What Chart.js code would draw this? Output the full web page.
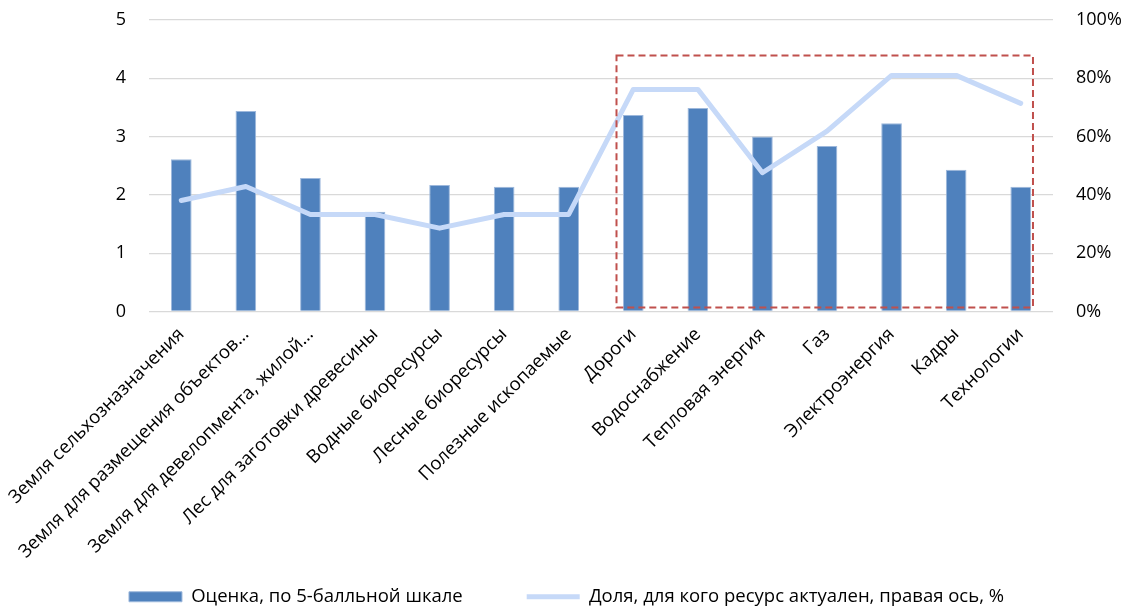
<!DOCTYPE html>
<html>
<head>
<meta charset="utf-8">
<script src="https://cdn.jsdelivr.net/npm/chart.js@4.4.0/dist/chart.umd.min.js"></script>
<style>
  html, body { margin: 0; padding: 0; background: #ffffff; }
  #wrap { width: 1133px; height: 609px; position: relative; }
</style>
</head>
<body>
<div id="wrap"><canvas id="c" width="1133" height="609"></canvas></div>
<script>
// ---- data ----
const categories = [
  'Земля сельхозназначения',
  'Земля для размещения объектов…',
  'Земля для девелопмента, жилой…',
  'Лес для заготовки древесины',
  'Водные биоресурсы',
  'Лесные биоресурсы',
  'Полезные ископаемые',
  'Дороги',
  'Водоснабжение',
  'Тепловая энергия',
  'Газ',
  'Электроэнергия',
  'Кадры',
  'Технологии'
];
const scores = [2.61, 3.44, 2.29, 1.71, 2.17, 2.14, 2.14, 3.37, 3.49, 3.00, 2.84, 3.23, 2.43, 2.14];
const shares = [38.1, 42.9, 33.3, 33.3, 28.6, 33.3, 33.3, 76.2, 76.2, 47.6, 61.9, 81.0, 81.0, 71.4];
const seriesNames = ['Оценка, по 5-балльной шкале', 'Доля, для кого ресурс актуален, правая ось, %'];
const leftTicks = [0, 1, 2, 3, 4, 5];
const rightTicks = [0, 20, 40, 60, 80, 100];
// highlighted group (category index range and score range it covers)
const highlightRange = { fromIndex: 6.74, toIndex: 13.19, low: 0.07, high: 4.39 };

const FONT = '"Open Sans", "Noto Sans", sans-serif';

const highlightPlugin = {
  id: 'highlightBox',
  afterDatasetsDraw(chart) {
    const x = chart.scales.x, y = chart.scales.y;
    const x0 = x.getPixelForValue(highlightRange.fromIndex);
    const x1 = x.getPixelForValue(highlightRange.toIndex);
    const y0 = y.getPixelForValue(highlightRange.high);
    const y1 = y.getPixelForValue(highlightRange.low);
    const ctx = chart.ctx;
    ctx.save();
    ctx.strokeStyle = '#C0504D';
    ctx.lineWidth = 2;
    ctx.setLineDash([7, 4]);
    ctx.strokeRect(x0, y0, x1 - x0, y1 - y0);
    ctx.restore();
  }
};

new Chart(document.getElementById('c'), {
  type: 'bar',
  data: {
    labels: categories,
    datasets: [
      {
        type: 'bar',
        label: seriesNames[0],
        data: scores,
        yAxisID: 'y',
        backgroundColor: '#4F81BD',
        borderColor: '#9DB8DC',
        borderWidth: 1,
        categoryPercentage: 1,
        barPercentage: 0.32,
        pointStyle: 'rect',
        order: 1
      },
      {
        type: 'line',
        label: seriesNames[1],
        data: shares,
        yAxisID: 'y1',
        borderColor: '#C6D9F8',
        backgroundColor: '#C6D9F8',
        borderWidth: 5,
        borderCapStyle: 'round',
        borderJoinStyle: 'round',
        tension: 0,
        pointRadius: 0,
        pointHoverRadius: 0,
        pointStyle: 'line',
        fill: false,
        order: 0
      }
    ]
  },
  options: {
    responsive: false,
    animation: false,
    devicePixelRatio: 1,
    layout: { padding: { top: 20, bottom: -7, left: 0, right: 0 } },
    plugins: {
      tooltip: { enabled: false },
      legend: {
        position: 'bottom',
        labels: {
          usePointStyle: true,
          pointStyleWidth: 53,
          boxHeight: 10,
          padding: 64,
          color: '#000000',
          font: { family: FONT, size: 18.5 },
          sort: (a, b) => a.datasetIndex - b.datasetIndex
        }
      }
    },
    scales: {
      x: {
        grid: { display: false, drawTicks: true, tickLength: 12, tickColor: 'rgba(0,0,0,0)' },
        border: { display: false },
        ticks: {
          autoSkip: false,
          minRotation: 45,
          maxRotation: 45,
          padding: 0,
          color: '#000000',
          font: { family: FONT, size: 18.5 }
        },
        afterFit(scale) {
          scale.height = 212;
          scale._computeLabelArea = () => undefined; // let rotated labels overflow the box
        }
      },
      y: {
        position: 'left',
        min: 0,
        max: 5,
        afterBuildTicks(scale) { scale.ticks = leftTicks.map(v => ({ value: v })); },
        grid: { color: '#D9D9D9', lineWidth: 1.3, drawTicks: true, tickLength: 23, tickColor: 'rgba(0,0,0,0)' },
        border: { display: false },
        ticks: {
          padding: 0,
          color: '#000000',
          font: { family: FONT, size: 18 }
        },
        afterFit(scale) { scale.width = 149; }
      },
      y1: {
        position: 'right',
        min: 0,
        max: 100,
        afterBuildTicks(scale) { scale.ticks = rightTicks.map(v => ({ value: v })); },
        grid: { display: false, drawTicks: true, tickLength: 23 },
        border: { display: false },
        ticks: {
          padding: 0,
          color: '#000000',
          font: { family: FONT, size: 18 },
          callback: v => v + '%'
        },
        afterFit(scale) { scale.width = 80; }
      }
    }
  },
  plugins: [highlightPlugin]
});
</script>
</body>
</html>
